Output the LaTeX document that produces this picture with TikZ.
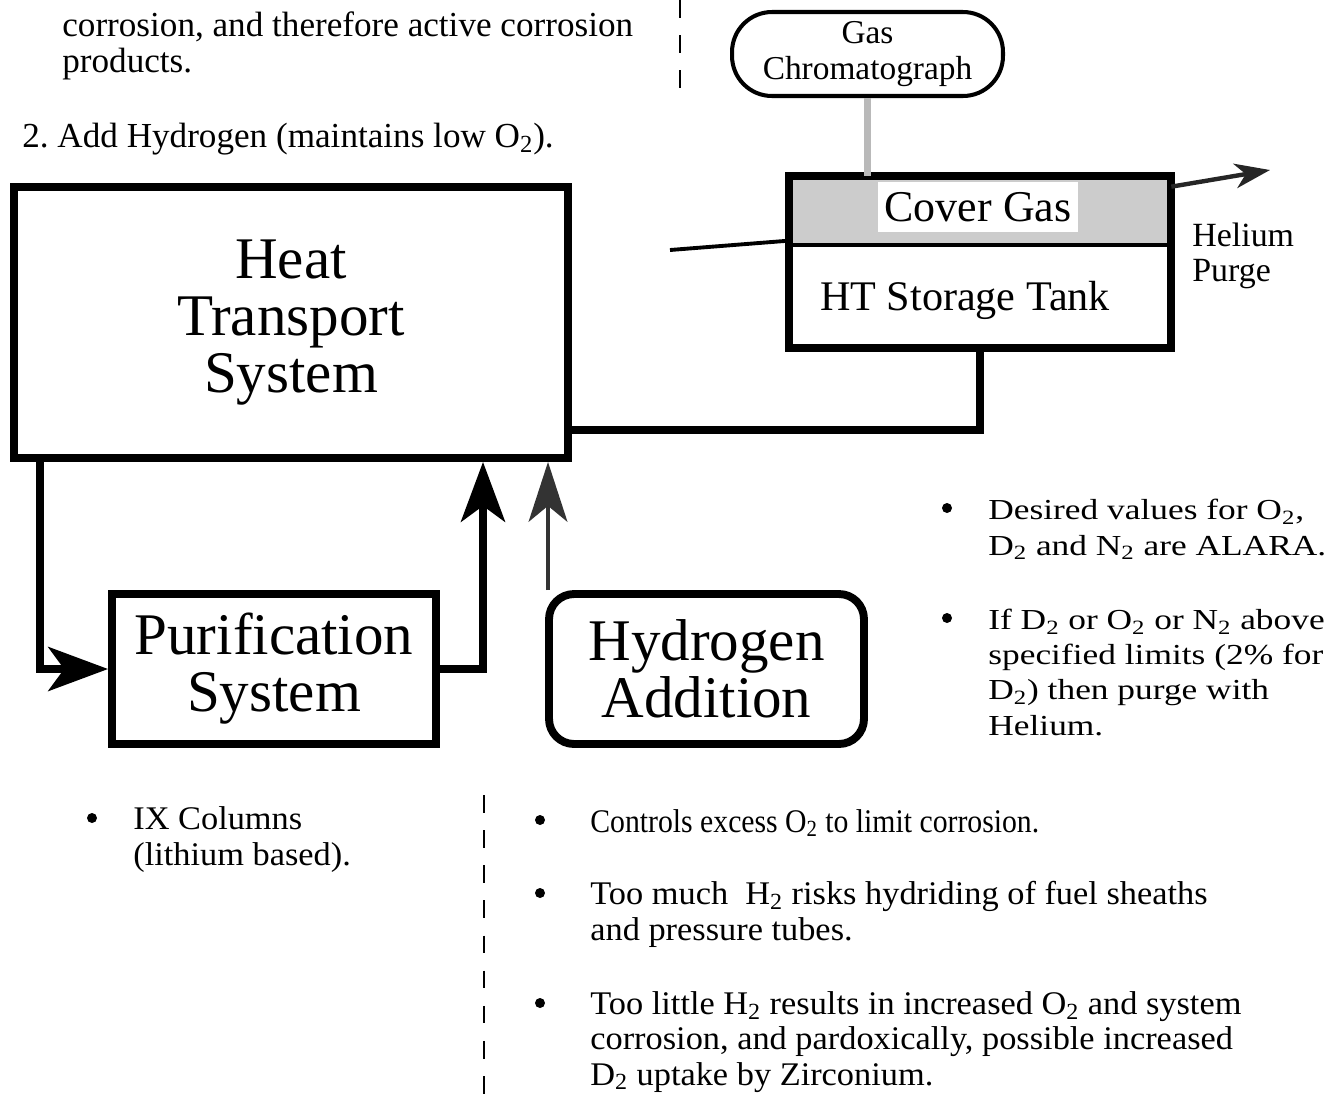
\documentclass[tikz,border=0pt]{standalone}
\usepackage{fontspec}
\setmainfont{Liberation Serif}
\newfontfamily\condf[FakeStretch=0.9]{Liberation Serif}
\newfontfamily\normf[FakeStretch=1.04]{Liberation Serif}
\newfontfamily\widef[FakeStretch=1.22]{Liberation Serif}
\usetikzlibrary{arrows.meta,calc}
\newcommand\ssub[1]{\textsubscript{#1}}
\frenchspacing
\tikzset{
  heavybox/.style={draw, line width=4.5pt, inner sep=0pt, align=center,
    font=\fontsize{33.6}{32.4}\selectfont},
  heavyline/.style={line width=4.5pt, line join=miter},
  bigtip/.style={-{Stealth[length=34pt,width=25pt,inset=9pt]}},
  note/.style={anchor=base west, align=left, inner sep=0pt},
  bodytxt/.style={note, font=\fontsize{20}{20}\selectfont},
  widetxt/.style={note, font=\widef\fontsize{16.5}{20}\selectfont},
  condtxt/.style={note, font=\condf\fontsize{18.8}{20}\selectfont},
  normtxt/.style={note, font=\normf\fontsize{18.8}{20}\selectfont},
  sepline/.style={line width=1.4pt, dash pattern=on 10pt off 10pt},
}
\begin{document}
\begin{tikzpicture}[x={(0.02cm,0)}, y={(0,-0.02cm)}]
\useasboundingbox (0,0) rectangle (1325,1100);
\fill[white] (0,0) rectangle (1325,1100);

% separators
\draw[sepline] (680,0) -- (680,102);
\draw[sepline] (484,795) -- (484,1100);

% top-left text (anchor = baseline of last line)
\node[bodytxt] (intro) at (62,72) {corrosion, and therefore active corrosion\\products.};
\node[bodytxt] (step2) at (22,147) {2. Add Hydrogen (maintains low O\ssub{2}).};

% main boxes
\node[heavybox, minimum width=11.08cm, minimum height=5.42cm] (hts) at (291,322.5) {Heat\\Transport\\System};
\node[heavybox, minimum width=6.48cm, minimum height=3.0cm] (pur) at (274,669) {Purification\\System};
\node[heavybox, rounded corners=0.5cm, minimum width=6.3cm, minimum height=3.0cm] (hyd) at (706.5,669) {Hydrogen\\Addition};

% storage tank
\node[minimum width=7.64cm, minimum height=3.44cm, inner sep=0pt] (tank) at (980,262) {};
\fill[gray!40] (tank.north west) rectangle (tank.east |- 0,245);
\node[fill=white, minimum width=4.0cm, minimum height=1.0cm, inner sep=0pt,
  font=\fontsize{25}{25}\selectfont] (cover) at (978,207) {Cover Gas};
\draw[line width=2.5pt] (tank.west |- 0,245) -- (tank.east |- 0,245);
\draw[line width=4.5pt] (tank.north west) rectangle (tank.south east);
\node[font=\fontsize{24}{24}\selectfont, inner sep=0pt] (httxt) at (965,300) {HT Storage Tank};

% gas chromatograph
\node[draw, line width=2.3pt, rounded corners=0.8cm, minimum width=5.42cm, minimum height=1.68cm,
  align=center, inner sep=0pt, font=\fontsize{19}{20}\selectfont] (gc) at (867.5,54) {Gas\\Chromatograph};
\draw[line width=3.5pt, gray!55] (gc.south) -- (gc.south |- tank.north);

% gas inlet and helium purge
\coordinate (gasin) at (670,250);
\draw[line width=2.2pt] (gasin) -- ($(tank.north west)+(0,65)$);
\coordinate (purgeend) at (1270,170);
\draw[line width=2.5pt, black!85, -{Stealth[length=20pt,width=14pt,inset=6pt]}] ($(tank.north east)+(0,11)$) -- (purgeend);
\node[note, font=\fontsize{19.3}{19.4}\selectfont] (purge) at (1192,281) {Helium\\Purge};

% connectors
\draw[heavyline] (hts.east |- 0,430) -| (tank.south);
\draw[heavyline, bigtip] (hts.south -| 40,0) |- (pur.west);
\draw[heavyline, bigtip] (pur.east) -| (hts.south -| 483,0);
\draw[line width=2.5pt, black!80, -{Stealth[length=34pt,width=22pt,inset=9pt]}] (hyd.north -| 548,0) -- (hts.south -| 548,0);

% right notes
\fill (947,508) circle (5);
\node[widetxt] (r1) at (988,555) {Desired values for O\ssub{2},\\D\ssub{2} and N\ssub{2} are ALARA.};
\fill (947,618) circle (5);
\node[widetxt] (r2) at (988,735) {If D\ssub{2} or O\ssub{2} or N\ssub{2} above\\specified limits (2\% for\\D\ssub{2}) then purge with\\Helium.};

% bottom notes
\fill (92,818) circle (5);
\node[normtxt] (ix) at (133,865) {IX Columns\\(lithium based).};
\fill (540,820) circle (5);
\node[condtxt] (c1) at (590,832) {Controls excess O\ssub{2} to limit corrosion.};
\fill (540,893) circle (5);
\node[normtxt] (c2) at (590,940) {Too much\ \ H\ssub{2} risks hydriding of fuel sheaths\\and pressure tubes.};
\fill (540,1003) circle (5);
\node[normtxt] (c3) at (590,1085) {Too little H\ssub{2} results in increased O\ssub{2} and system\\corrosion, and pardoxically, possible increased\\D\ssub{2} uptake by Zirconium.};
\end{tikzpicture}
\end{document}
